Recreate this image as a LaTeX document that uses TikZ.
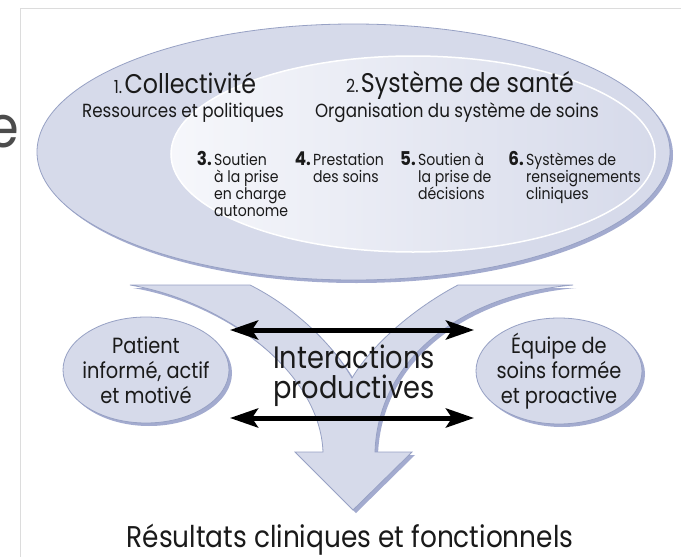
\documentclass[tikz,border=0pt]{standalone}
\usepackage{fontspec}
\setmainfont{Poppins}[FakeStretch=0.88]
\usepackage{tikz}
\usetikzlibrary{shapes.geometric, arrows.meta, positioning, shadows}
\definecolor{lavender}{HTML}{D6DAEA}
\definecolor{lavenderedge}{HTML}{97A1C4}
\definecolor{lavendershade}{HTML}{A3ABCF}
\definecolor{paleinner}{HTML}{F6F7FB}
\definecolor{framegray}{HTML}{DCDCDC}
\definecolor{inkdark}{HTML}{1A1A1A}

\newcommand{\fsize}[2]{\fontsize{#1}{#2}\selectfont}

\begin{document}
\begin{tikzpicture}[x=1pt, y=-1pt,
	blob/.style={ellipse, draw=lavenderedge, fill=lavender, line width=0.8pt, inner sep=0pt,
		drop shadow={shadow xshift=3pt, shadow yshift=-3pt, fill=lavendershade, opacity=1}},
	txt/.style={text=inkdark, inner sep=0pt},
	numtxt/.style={txt, anchor=base east, font=\fsize{19}{19}\bfseries},
	itemtxt/.style={txt, anchor=base west, font=\fsize{16}{16.7}},
	twoway/.style={line width=5pt,
		{Stealth[length=28pt,width=19pt,inset=6pt]}-{Stealth[length=28pt,width=19pt,inset=6pt]}}]
	\fill[white] (0,0) rectangle (681,557);
	\useasboundingbox (0,0) rectangle (681,557);
	% frame and the stray letter on the left
	\draw[framegray, line width=1.5pt] (20.5,557) -- (20.5,8.5) -- (681,8.5);
	\node[anchor=base east, inner sep=0pt, text=black!70, font=\fsize{58}{58}] (stray) at (19,147) {e};

	% the two nested ellipses
	\node[blob, minimum width=633pt, minimum height=256pt] (community) at (353.5,152) {};
	\node[ellipse, draw=white, line width=1.5pt, inner sep=0pt, left color=paleinner, right color=lavender,
		minimum width=484pt, minimum height=196pt] (healthsys) at (413,154) {};

	\node[txt, anchor=base] (coll) at (185,93) {{\fsize{18}{18}1.}\ {\fsize{27}{27}Collectivité}};
	\node[txt, anchor=base, font=\fsize{19}{19}] (collsub) at (183,117) {Ressources et politiques};
	\node[txt, anchor=base] (sys) at (460,92) {{\fsize{18}{18}2.}\ {\fsize{27}{27}Système de santé}};
	\node[txt, anchor=base, font=\fsize{19}{19}] (syssub) at (457,117) {Organisation du système de soins};

	\node[itemtxt] (item3) at (214,165) {\begin{tabular}[t]{@{}l@{}}Soutien\\à la prise\\en charge\\autonome\end{tabular}};
	\node[numtxt] (num3) at ([xshift=-2pt]item3.base west) {3.};
	\node[itemtxt] (item4) at (313,165) {\begin{tabular}[t]{@{}l@{}}Prestation\\des soins\end{tabular}};
	\node[numtxt] (num4) at ([xshift=-2pt]item4.base west) {4.};
	\node[itemtxt] (item5) at (418,165) {\begin{tabular}[t]{@{}l@{}}Soutien à\\la prise de\\décisions\end{tabular}};
	\node[numtxt] (num5) at ([xshift=-2pt]item5.base west) {5.};
	\node[itemtxt] (item6) at (526,165) {\begin{tabular}[t]{@{}l@{}}Systèmes de\\renseignements\\cliniques\end{tabular}};
	\node[numtxt] (num6) at ([xshift=-2pt]item6.base west) {6.};

	% funnel arrow
	\path[draw=lavenderedge, fill=lavender, line width=0.8pt,
		drop shadow={shadow xshift=3pt, shadow yshift=-3pt, fill=lavendershade, opacity=1}]
		(130,285) -- (250,285) .. controls (290,305) and (330,340) .. (352,378)
		.. controls (375,340) and (420,305) .. (458,285) -- (573,285)
		.. controls (460,295) and (378,360) .. (375,452) -- (412,452) -- (353,510) -- (295,452) -- (323,452)
		.. controls (320,370) and (220,300) .. (130,285) -- cycle;

	\node[blob, minimum width=166pt, minimum height=106pt] (patient) at (146,370) {};
	\node[txt, align=center, font=\fsize{22}{25}] (patienttxt) at (patient) {Patient\\informé, actif\\et motivé};
	\node[blob, minimum width=166pt, minimum height=106pt] (equipe) at (559,371) {};
	\node[txt, align=center, font=\fsize{22}{25}] (equipetxt) at (equipe) {Équipe de\\soins formée\\et proactive};

	\coordinate (ltop) at (230,330);
	\coordinate (rtop) at (474,330);
	\coordinate (lbot) at (230,418);
	\coordinate (rbot) at (474,418);
	\draw[twoway] (ltop) -- (rtop);
	\draw[twoway] (lbot) -- (rbot);

	\node[txt, align=center, font=\fsize{31}{30}] (interact) at (354,376) {Interactions\\productives};
	\node[txt, anchor=base, font=\fsize{30}{30}] (outcome) at (350,547) {Résultats cliniques et fonctionnels};
\end{tikzpicture}
\end{document}
